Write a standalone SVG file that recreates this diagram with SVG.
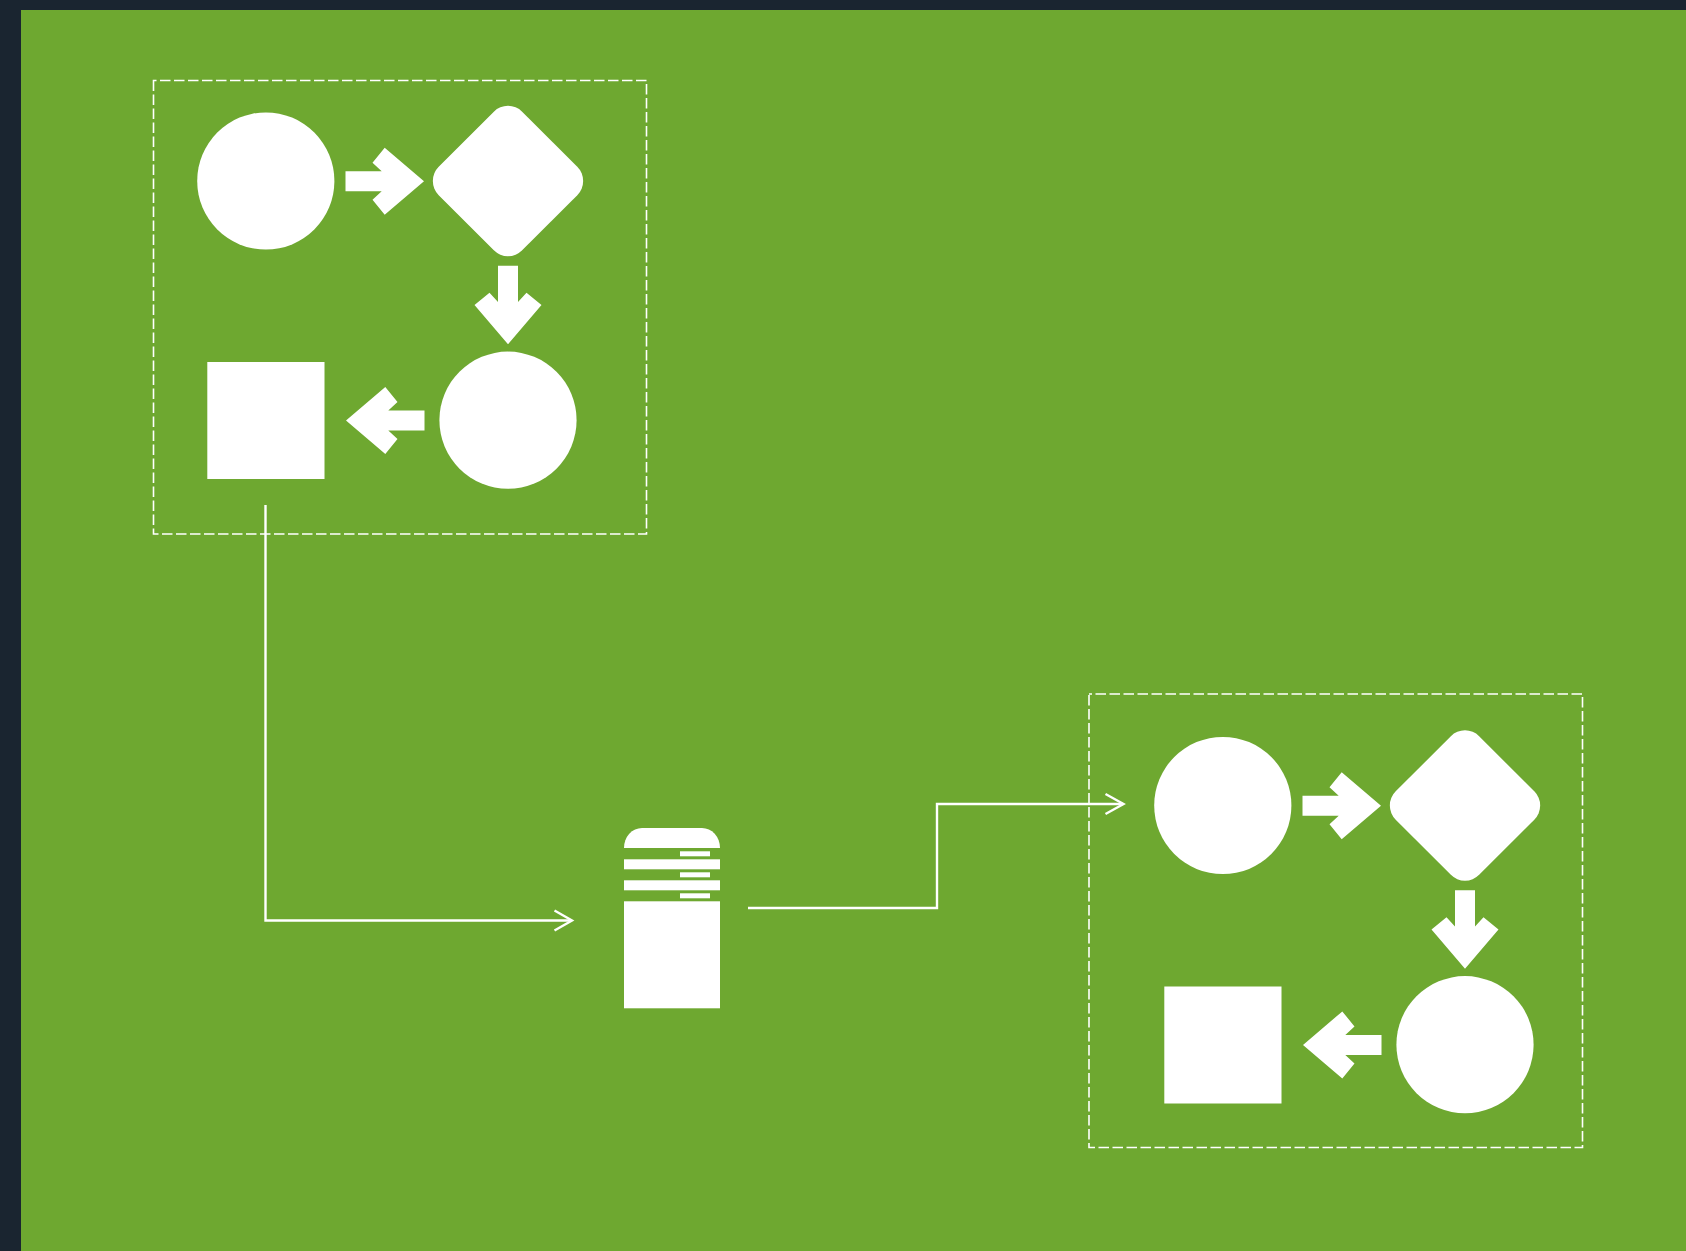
<svg xmlns="http://www.w3.org/2000/svg" width="1686" height="1251" viewBox="0 0 1686 1251">
<style>
.s{fill:#fff}
.g{fill:none;stroke:#fff;stroke-width:1.6;stroke-dasharray:10.5 3.5;stroke-dashoffset:7.5}
.c{fill:none;stroke:#fff;stroke-width:2.4}
</style>
<defs>
<path id="arrow" class="s" d="M-39.500 -10H-3.300L-12.500 -18.500L-0.300 -33.500L39 0L-0.300 33.500L-12.500 18.500L-3.300 10H-39.500Z"/>
<g id="process">
<circle class="s" cx="265.800" cy="181" r="68.600"/>
<rect class="s" x="-59" y="-59" width="118" height="118" rx="20" transform="translate(508 181) rotate(45)"/>
<use href="#arrow" transform="translate(385 181.300)"/>
<use href="#arrow" transform="translate(508 305.300) rotate(90)"/>
<circle class="s" cx="508" cy="420.200" r="68.600"/>
<use href="#arrow" transform="translate(385 420.400) rotate(180)"/>
<rect class="s" x="207.300" y="362" width="117.200" height="117"/>
</g>
</defs>
<rect width="1686" height="1251" fill="#1a2530"/>
<rect x="21" y="10" width="1665" height="1241" fill="#6ea830"/>
<g id="group-1">
<rect class="g" x="153.500" y="80.500" width="493" height="453.500"/>
<use href="#process"/>
</g>
<g id="group-2">
<rect class="g" x="1089" y="694" width="493.500" height="453.500"/>
<use href="#process" x="957" y="624.500"/>
</g>
<g id="server">
<path class="s" d="M624 848A18 20 0 0 1 642 828H702A18 20 0 0 1 720 848Z"/>
<rect class="s" x="680" y="851.300" width="30" height="5"/>
<rect class="s" x="624" y="859.300" width="96" height="10"/>
<rect class="s" x="680" y="872.300" width="30" height="5"/>
<rect class="s" x="624" y="880.300" width="96" height="10"/>
<rect class="s" x="680" y="893.300" width="30" height="5"/>
<rect class="s" x="624" y="901.300" width="96" height="107"/>
</g>
<g id="connectors">
<path class="c" d="M265.500 505V920.500H571"/>
<path class="c" d="M554.500 910.500L572 920.500L554.500 930.500"/>
<path class="c" d="M748 908H937V804H1123"/>
<path class="c" d="M1105.500 794L1123.500 804L1105.500 814"/>
</g>
</svg>
